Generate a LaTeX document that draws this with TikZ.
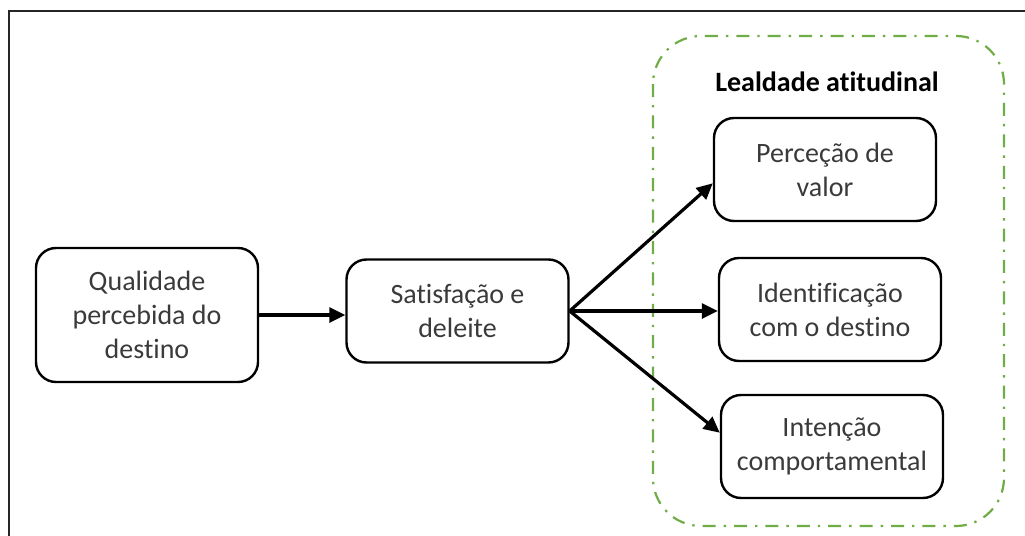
\documentclass[tikz,border=0pt]{standalone}
\usepackage{fontspec}
\setmainfont{Carlito}[Ligatures=NoCommon]
\usetikzlibrary{arrows.meta}
\definecolor{lgreen}{HTML}{70AD47}
\definecolor{txtgray}{HTML}{3A3A3A}
\tikzset{
  box/.style={draw, rounded corners=10pt, line width=1.2pt, align=center, font=\fontsize{14}{17}\selectfont, text=txtgray, inner sep=2pt, minimum width=111pt, minimum height=51.5pt},
  flow/.style={-{Triangle[length=8pt,width=7.5pt]}, line width=1.6pt},
  group/.style={draw=lgreen, line width=1.1pt, rounded corners=24pt, dash pattern=on 6.5pt off 4pt on 1.2pt off 4pt},
  gtitle/.style={font=\bfseries\fontsize{14}{17}\selectfont}
}

\begin{document}
\begin{tikzpicture}[x=0.5pt,y=-0.5pt]
\useasboundingbox (0,0) rectangle (1025,536);
\draw[line width=1pt, black!85] (9,536) -- (9,11) -- (1025,11);
% grupo da lealdade
\draw[group] (653,36) rectangle (1004,526);
\node[gtitle] (title) at (827,82) {Lealdade atitudinal};
% caixas
\node[box, minimum height=67pt] (qual) at (147,315) {Qualidade\\percebida do\\destino};
\node[box] (sat) at (457.5,311) {Satisfação e\\deleite};
\node[box] (perc) at (825,169.5) {Perceção de\\valor};
\node[box] (ident) at (830,309.5) {Identificação\\com o destino};
\node[box] (inten) at (832,446.5) {Intenção\\comportamental};
% setas
\draw[flow] (qual.east) -- (qual.east -| sat.west);
\draw[flow] (sat.east) -- (perc.187);
\draw[flow] (sat.east) -- (sat.east -| ident.west);
\draw[flow] (sat.east) -- (inten.173);
\end{tikzpicture}
\end{document}
